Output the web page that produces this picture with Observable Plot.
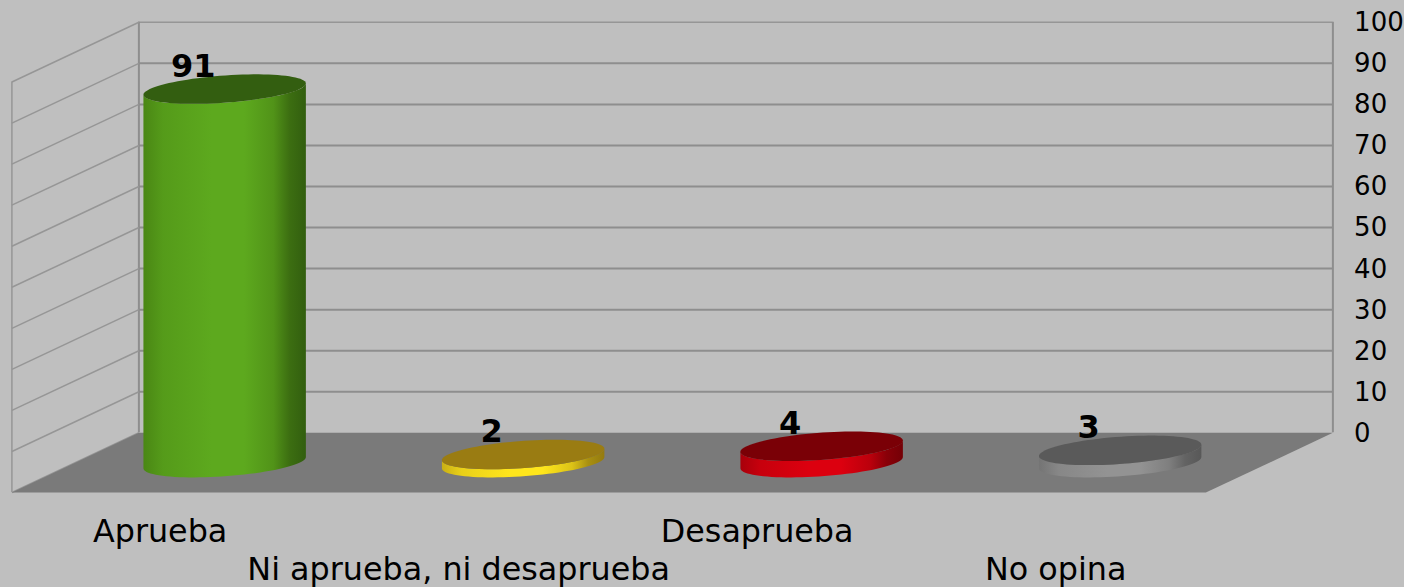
<!DOCTYPE html>
<html>
<head>
<meta charset="utf-8">
<script src="https://cdn.jsdelivr.net/npm/d3@7"></script>
<script src="https://cdn.jsdelivr.net/npm/@observablehq/plot@0.6"></script>
<style>
html,body{margin:0;padding:0;background:#bfbfbf;overflow:hidden}
svg{display:block}
</style>
</head>
<body>
<div id="chart"></div>
<script>
const categories = ["Aprueba", "Ni aprueba, ni desaprueba", "Desaprueba", "No opina"];
const values = [91, 2, 4, 3];
const yTicks = [0, 10, 20, 30, 40, 50, 60, 70, 80, 90, 100];
const bright = ["#5da91e", "#ffe61c", "#dc000f", "#939393"];
const mid = ["#4a8714", "#c9b015", "#a8000b", "#747474"];
const dark = ["#325e0f", "#947a0f", "#740006", "#585858"];
const topColor = ["#335e10", "#9a7c12", "#7a0006", "#5a5a5a"];

// oblique depth of the floor, in scale units (category widths / value units)
const depthX = 127 / 298.5;
const depthY = 14.55;
const radiusX = 0.251;
const radiusD = 0.247;
const P = (u, v, d) => ({x: u - d * depthX, y: v - d * depthY});
const circle = (i, v, t) => P(i + 0.5 + radiusX * Math.cos(t), v, 0.5 + radiusD * Math.sin(t));
const angles = d3.range(0, 360, 4).map((a) => a * Math.PI / 180);
const tRight = Math.atan(-radiusD * depthX / radiusX);
const arc = d3.range(0, 46).map((k) => tRight + Math.PI * k / 45);

const defs = () => {
  const s = d3.create("svg:defs");
  categories.forEach((_, i) => {
    const g = s.append("linearGradient").attr("id", "body" + i);
    [[0, mid[i]], [0.12, d3.interpolateRgb(mid[i], bright[i])(0.6)], [0.42, bright[i]], [0.62, bright[i]],
     [0.8, d3.interpolateRgb(mid[i], bright[i])(0.35)], [0.9, d3.interpolateRgb(mid[i], dark[i])(0.6)], [1, dark[i]]]
      .forEach(([o, c]) => g.append("stop").attr("offset", o).attr("stop-color", c));
  });
  return s.node();
};

const gridColor = "#8e8e8e";
const floor = [P(0, 0, 0), P(4, 0, 0), P(4, 0, 1), P(0, 0, 1)];
const sideLines = yTicks.map((v) => ({a: P(0, v, 0), b: P(0, v, 1)}));

const cylinders = categories.flatMap((c, i) => {
  const body = [
    ...arc.map((t) => circle(i, 0, t)),
    ...arc.slice().reverse().map((t) => circle(i, values[i], t))
  ];
  const top = angles.map((t) => circle(i, values[i], t));
  return [
    Plot.line(body, {x: "x", y: "y", fill: `url(#body${i})`, stroke: "none", curve: "linear-closed"}),
    Plot.line(top, {x: "x", y: "y", fill: topColor[i], stroke: "none", curve: "linear-closed"})
  ];
});

const labelRow = (row, dy) => Plot.text(
  categories.map((c, i) => ({c, i})).filter((d) => d.i % 2 === row),
  {x: (d) => P(d.i + 0.5, 0, 1).x, y: () => P(0, 0, 1).y, text: "c", dx: -1, dy, fontSize: 31.8, fill: "#000", textAnchor: "middle", lineAnchor: "middle"}
);

const chart = Plot.plot({
  width: 1404,
  height: 587,
  marginRight: 71,
  marginLeft: 0,
  marginTop: 0,
  marginBottom: 0,
  style: {background: "#bfbfbf", fontFamily: "'DejaVu Sans'", overflow: "visible"},
  x: {type: "linear", domain: [0, 4], range: [138.4, 1332.4], axis: null},
  y: {type: "linear", domain: [0, 100], range: [432.3, 21.8], axis: null},
  marks: [
    defs,
    Plot.ruleY(yTicks.filter((v) => v > 0 && v < 100), {x1: 0, x2: 4, stroke: gridColor, strokeWidth: 2}),
    Plot.ruleY([100], {x1: 0, x2: 4, stroke: "#969696", strokeWidth: 1.5}),
    Plot.ruleX([0, 4], {y1: 0, y2: 100, stroke: gridColor, strokeWidth: 2}),
    Plot.link(sideLines, {x1: (d) => d.a.x, y1: (d) => d.a.y, x2: (d) => d.b.x, y2: (d) => d.b.y, stroke: "#969696", strokeWidth: 1.5}),
    Plot.ruleX([P(0, 0, 1).x], {y1: P(0, 0, 1).y, y2: P(0, 100, 1).y, stroke: "#969696", strokeWidth: 1.5}),
    Plot.line(floor, {x: "x", y: "y", fill: "#7a7a7a", stroke: "none", curve: "linear-closed"}),
    ...cylinders,
    Plot.text(categories.map((c, i) => i), {
      x: (i) => circle(i, 0, 0).x - radiusX - 32 / 298.5,
      y: (i) => P(0, values[i], 0.5).y,
      text: (i) => String(values[i]),
      dx: 0.5, dy: -22.4, fontSize: 32, fontWeight: "bold", fill: "#000", textAnchor: "middle", lineAnchor: "middle"
    }),
    labelRow(0, 39),
    labelRow(1, 77),
    Plot.axisY(yTicks, {anchor: "right", tickSize: 0, tickPadding: 20.6, dy: 0.6, fontSize: 26, color: "#000", label: null, fontVariant: "normal"})
  ]
});
document.getElementById("chart").append(chart);
</script>
</body>
</html>
